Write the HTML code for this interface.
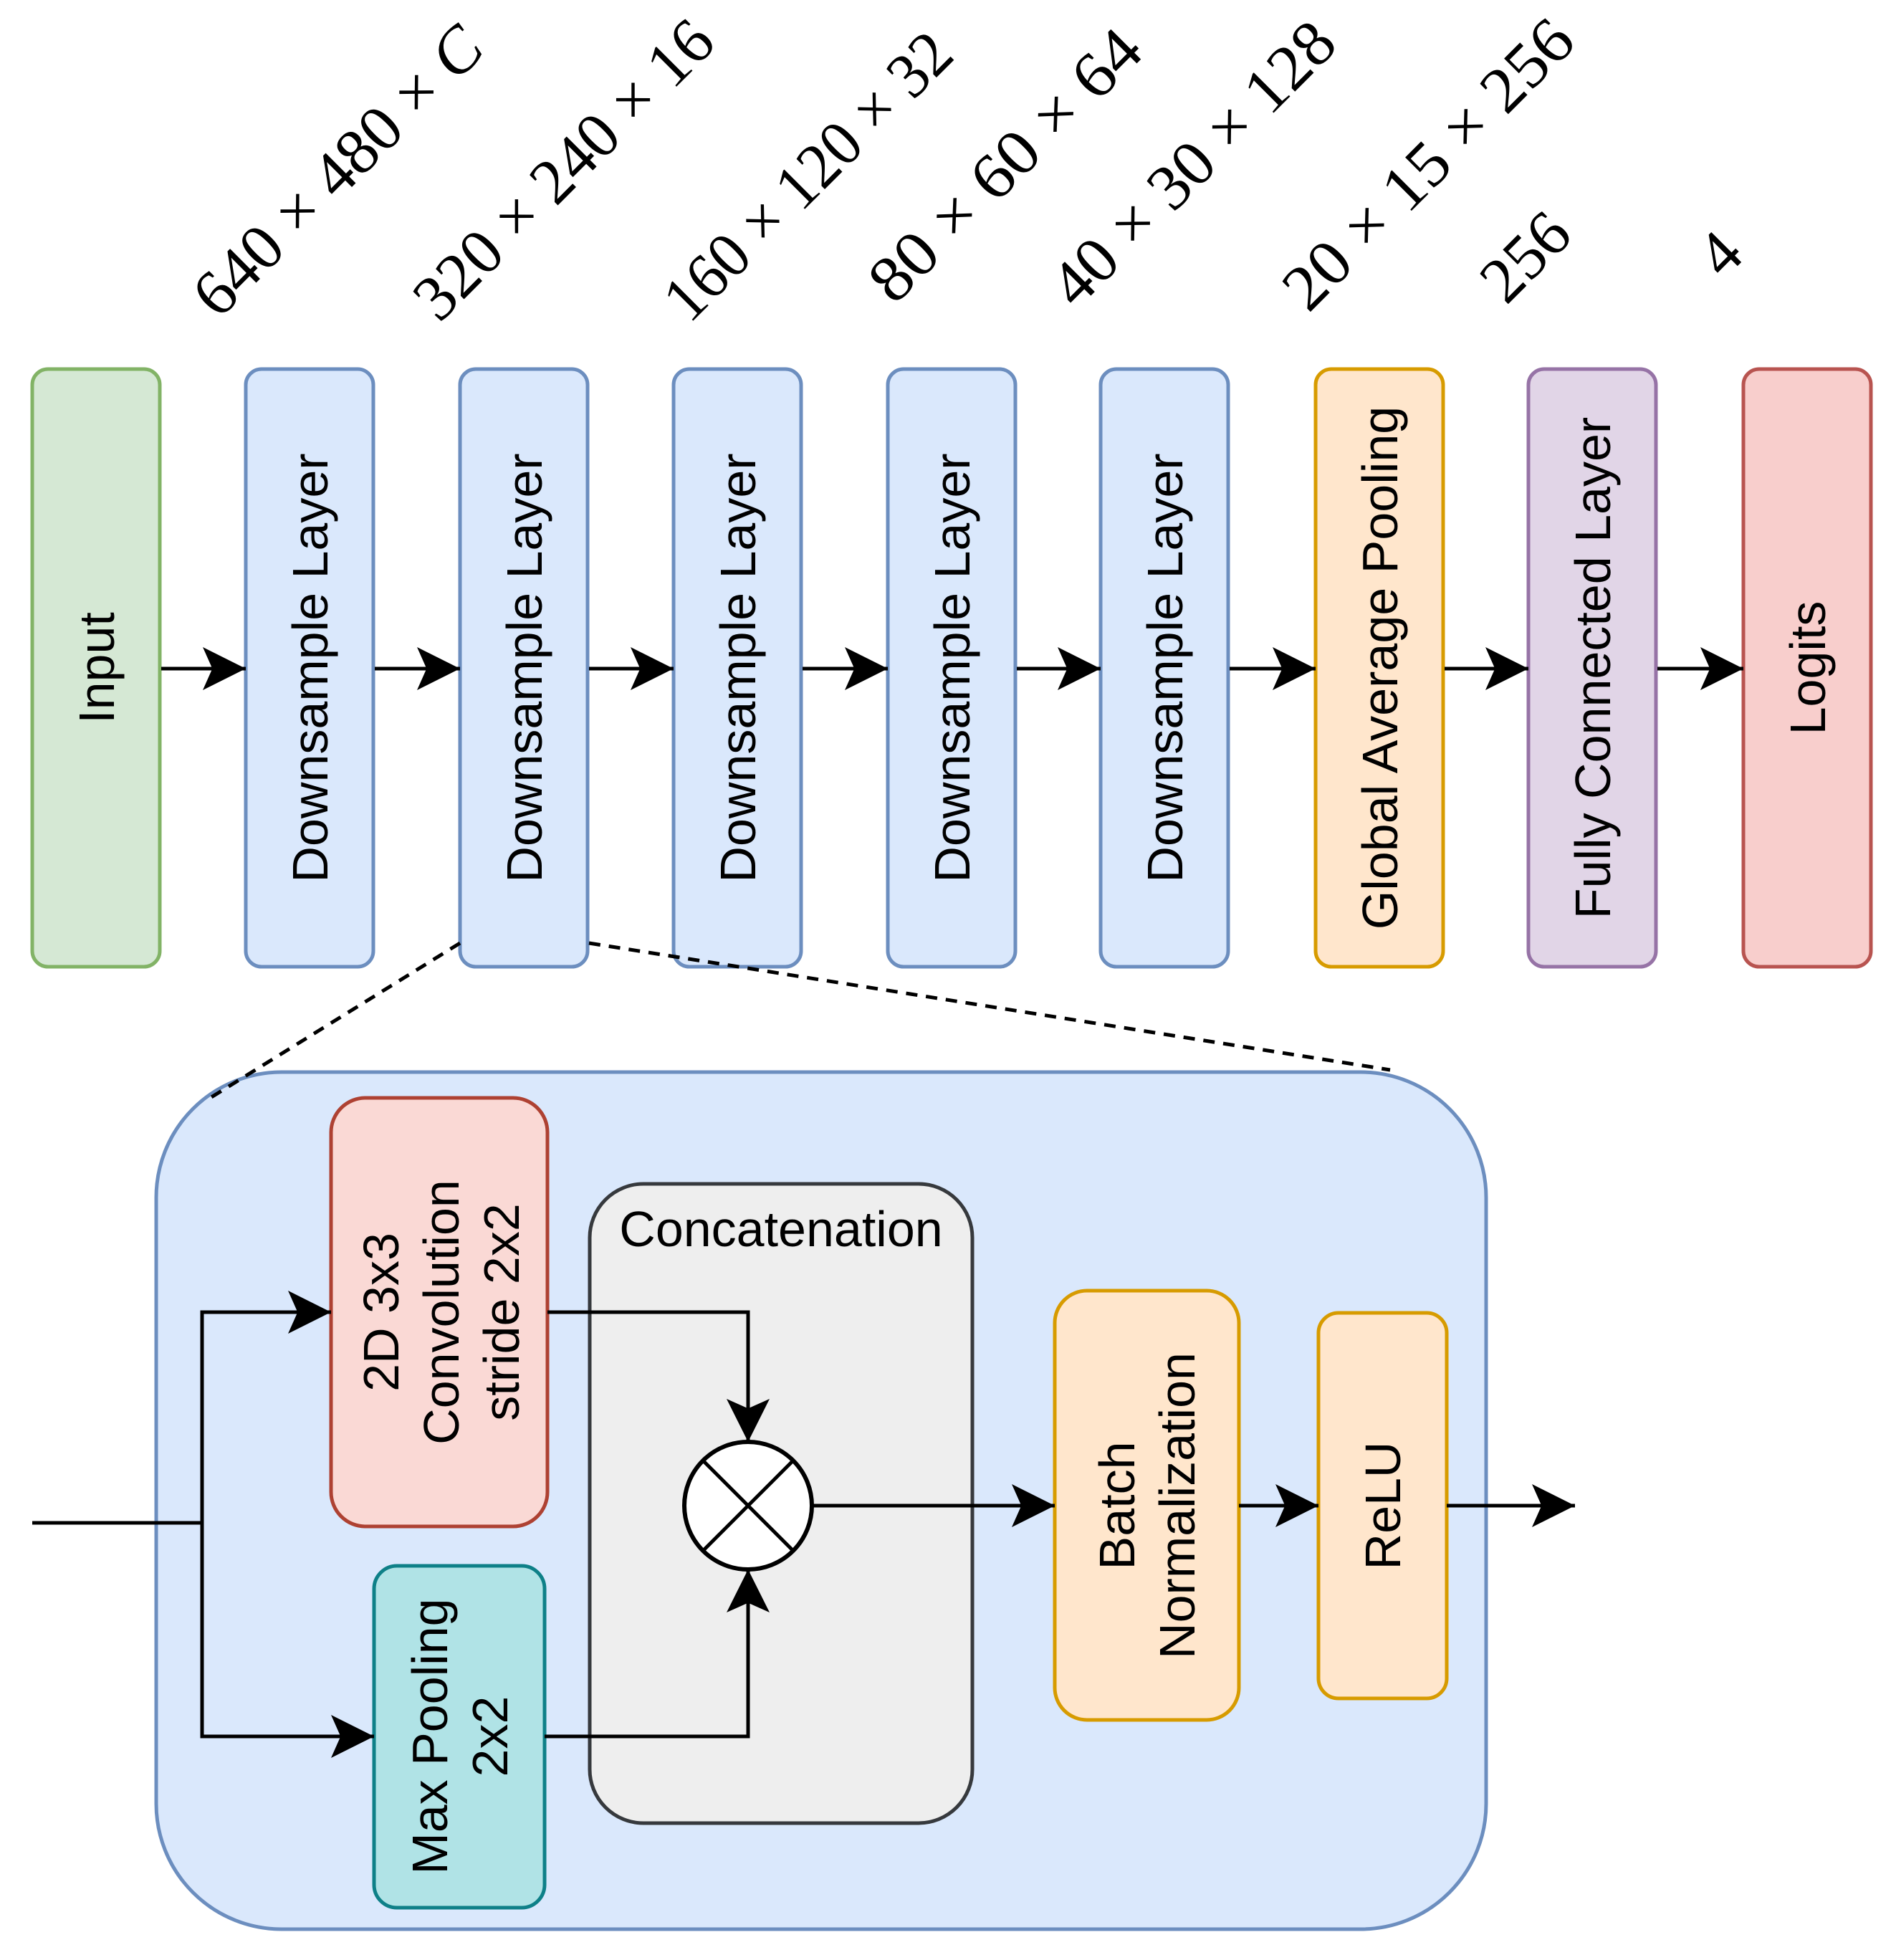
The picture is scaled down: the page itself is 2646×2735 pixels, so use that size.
<!DOCTYPE html>
<html><head><meta charset="utf-8"><style>
html,body{margin:0;padding:0;background:#fff;}
svg{display:block;}
.s{font-family:"Liberation Sans",Arial,sans-serif;font-size:70px;fill:#000;}
.m{font-family:"Liberation Serif","DejaVu Serif",serif;font-size:90px;fill:#000;}
</style></head><body>
<svg width="2646" height="2735" viewBox="0 0 2646 2735" xmlns="http://www.w3.org/2000/svg">
<defs>
<marker id="a" markerUnits="userSpaceOnUse" markerWidth="60" markerHeight="60" viewBox="0 0 54 54" refX="54" refY="27" orient="auto">
<path d="M0,0 L54,27 L0,54 L12,27 Z" fill="#000"/>
</marker>
</defs>

<g class="m">
<text transform="translate(305,447) rotate(-45)" textLength="530" lengthAdjust="spacingAndGlyphs">640 × 480 × <tspan font-style="italic">C</tspan></text>
<text transform="translate(613,452) rotate(-45)" textLength="550" lengthAdjust="spacingAndGlyphs">320 × 240 × 16</text>
<text transform="translate(962,453) rotate(-45)" textLength="527" lengthAdjust="spacingAndGlyphs">160 × 120 × 32</text>
<text transform="translate(1248,427) rotate(-45)" textLength="497" lengthAdjust="spacingAndGlyphs">80 × 60 × 64</text>
<text transform="translate(1502,433) rotate(-45)" textLength="520" lengthAdjust="spacingAndGlyphs">40 × 30 × 128</text>
<text transform="translate(1826,438) rotate(-45)" textLength="532" lengthAdjust="spacingAndGlyphs">20 × 15 × 256</text>
<text transform="translate(2102,427) rotate(-45)" textLength="135" lengthAdjust="spacingAndGlyphs">256</text>
<text transform="translate(2405,391) rotate(-45)">4</text>
</g>

<g stroke-width="5">
<rect x="45" y="515" width="178" height="834" rx="22" fill="#d5e8d4" stroke="#82b366"/>
<rect x="343" y="515" width="178" height="834" rx="22" fill="#dae8fc" stroke="#6c8ebf"/>
<rect x="642" y="515" width="178" height="834" rx="22" fill="#dae8fc" stroke="#6c8ebf"/>
<rect x="940" y="515" width="178" height="834" rx="22" fill="#dae8fc" stroke="#6c8ebf"/>
<rect x="1239" y="515" width="178" height="834" rx="22" fill="#dae8fc" stroke="#6c8ebf"/>
<rect x="1536" y="515" width="178" height="834" rx="22" fill="#dae8fc" stroke="#6c8ebf"/>
<rect x="1836" y="515" width="178" height="834" rx="22" fill="#ffe6cc" stroke="#d79b00"/>
<rect x="2133" y="515" width="178" height="834" rx="22" fill="#e1d5e7" stroke="#9673a6"/>
<rect x="2433" y="515" width="178" height="834" rx="22" fill="#f8cecc" stroke="#b85450"/>
</g>
<g class="s" text-anchor="middle">
<text transform="translate(134,932) rotate(-90)" dy="25">Input</text>
<text transform="translate(432,932) rotate(-90)" dy="25">Downsample Layer</text>
<text transform="translate(731,932) rotate(-90)" dy="25">Downsample Layer</text>
<text transform="translate(1029,932) rotate(-90)" dy="25">Downsample Layer</text>
<text transform="translate(1328,932) rotate(-90)" dy="25">Downsample Layer</text>
<text transform="translate(1625,932) rotate(-90)" dy="25">Downsample Layer</text>
<text transform="translate(1925,932) rotate(-90)" dy="25">Global Average Pooling</text>
<text transform="translate(2222,932) rotate(-90)" dy="25">Fully Connected Layer</text>
<text transform="translate(2522,932) rotate(-90)" dy="25">Logits</text>
</g>
<g stroke="#000" stroke-width="5" fill="none" marker-end="url(#a)">
<line x1="225" y1="933" x2="343" y2="933"/>
<line x1="523" y1="933" x2="642" y2="933"/>
<line x1="822" y1="933" x2="940" y2="933"/>
<line x1="1120" y1="933" x2="1239" y2="933"/>
<line x1="1419" y1="933" x2="1536" y2="933"/>
<line x1="1716" y1="933" x2="1836" y2="933"/>
<line x1="2016" y1="933" x2="2133" y2="933"/>
<line x1="2313" y1="933" x2="2433" y2="933"/>
</g>

<rect x="218" y="1496" width="1856" height="1196" rx="175" fill="#dae8fc" stroke="#6c8ebf" stroke-width="5"/>

<g stroke="#000" stroke-width="5" stroke-dasharray="16,12" fill="none">
<line x1="642" y1="1316" x2="287" y2="1536"/>
<line x1="822" y1="1316" x2="1940" y2="1493"/>
</g>

<rect x="823" y="1652" width="534" height="892" rx="75" fill="#eeeeee" stroke="#36393d" stroke-width="5"/>
<text class="s" x="1090" y="1739" text-anchor="middle">Concatenation</text>

<rect x="462" y="1532" width="302" height="598" rx="48" fill="#fad9d5" stroke="#ae4132" stroke-width="5"/>
<g class="s" text-anchor="middle">
<text transform="translate(615,1831) rotate(-90)"><tspan x="0" dy="-59">2D 3x3</tspan><tspan x="0" dy="84">Convolution</tspan><tspan x="0" dy="84">stride 2x2</tspan></text>
</g>
<rect x="522" y="2185" width="238" height="477" rx="32" fill="#b0e3e6" stroke="#0e8088" stroke-width="5"/>
<g class="s" text-anchor="middle">
<text transform="translate(641,2423) rotate(-90)"><tspan x="0" dy="-17">Max Pooling</tspan><tspan x="0" dy="84">2x2</tspan></text>
</g>
<rect x="1472" y="1801" width="257" height="599" rx="45" fill="#ffe6cc" stroke="#d79b00" stroke-width="5"/>
<text class="s" text-anchor="middle" transform="translate(1600,2101) rotate(-90)"><tspan x="0" dy="-17">Batch</tspan><tspan x="0" dy="84">Normalization</tspan></text>
<rect x="1840" y="1832" width="179" height="538" rx="28" fill="#ffe6cc" stroke="#d79b00" stroke-width="5"/>
<text class="s" text-anchor="middle" transform="translate(1929,2101) rotate(-90)" dy="25">ReLU</text>

<circle cx="1044" cy="2101" r="89" fill="#fff" stroke="#000" stroke-width="6"/>
<line x1="981" y1="2038" x2="1107" y2="2164" stroke="#000" stroke-width="5"/>
<line x1="1107" y1="2038" x2="981" y2="2164" stroke="#000" stroke-width="5"/>

<g stroke="#000" stroke-width="5" fill="none">
<polyline points="45,2125 282,2125"/>
<polyline points="282,2125 282,1831 462,1831" marker-end="url(#a)"/>
<polyline points="282,2125 282,2423 522,2423" marker-end="url(#a)"/>
<polyline points="764,1831 1044,1831 1044,2012" marker-end="url(#a)"/>
<polyline points="760,2423 1044,2423 1044,2190" marker-end="url(#a)"/>
<line x1="1133" y1="2101" x2="1472" y2="2101" marker-end="url(#a)"/>
<line x1="1729" y1="2101" x2="1840" y2="2101" marker-end="url(#a)"/>
<line x1="2019" y1="2101" x2="2198" y2="2101" marker-end="url(#a)"/>
</g>
</svg>
</body></html>
